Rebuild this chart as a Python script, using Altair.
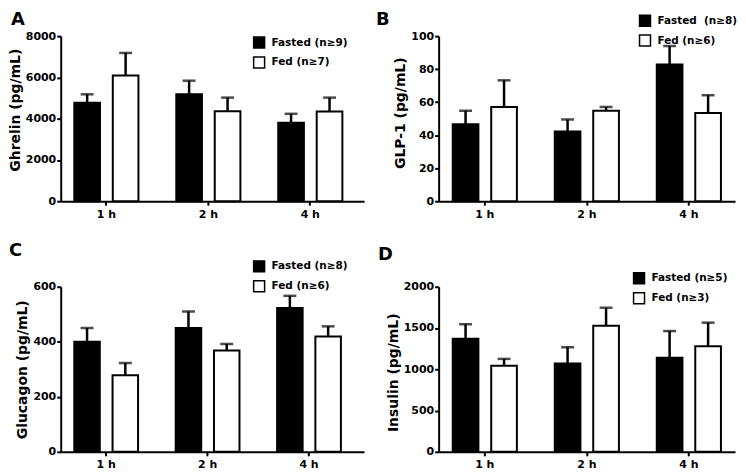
import altair as alt
import pandas as pd

FONT = "DejaVu Sans"

times = ["1 h", "2 h", "4 h"]
groups = ["Fasted", "Fed"]

# Panel A - Ghrelin
ghrelin_fasted = [4770, 5180, 3800]
ghrelin_fasted_sem = [410, 660, 435]
ghrelin_fed = [6090, 4360, 4345]
ghrelin_fed_sem = [1095, 660, 675]
ghrelin_ticks = [0, 2000, 4000, 6000, 8000]

# Panel B - GLP-1
glp1_fasted = [46.6, 42.3, 82.8]
glp1_fasted_sem = [8.2, 7.2, 11.2]
glp1_fed = [57.1, 54.8, 53.4]
glp1_fed_sem = [16.1, 2.3, 10.8]
glp1_ticks = [0, 20, 40, 60, 80, 100]

# Panel C - Glucagon
glucagon_fasted = [400, 450, 523]
glucagon_fasted_sem = [50, 60, 44]
glucagon_fed = [278, 368, 419]
glucagon_fed_sem = [45, 24, 37]
glucagon_ticks = [0, 200, 400, 600]

# Panel D - Insulin
insulin_fasted = [1369, 1071, 1141]
insulin_fasted_sem = [177, 196, 322]
insulin_fed = [1043, 1526, 1278]
insulin_fed_sem = [83, 220, 287]
insulin_ticks = [0, 500, 1000, 1500, 2000]


def panel(letter, ytitle, fasted, fasted_sem, fed, fed_sem, labels, ticks,
          W, H, x_outer, x_align, leg_x, leg_y, let_x, let_y, title_y):
    rows = []
    for i, t in enumerate(times):
        rows.append({"time": t, "group": "Fasted", "label": labels[0],
                     "mean": fasted[i], "upper": fasted[i] + fasted_sem[i]})
        rows.append({"time": t, "group": "Fed", "label": labels[1],
                     "mean": fed[i], "upper": fed[i] + fed_sem[i]})
    df = pd.DataFrame(rows)
    x = alt.X("time:N", sort=times,
              scale=alt.Scale(paddingInner=0.245, paddingOuter=x_outer, align=x_align),
              axis=alt.Axis(title=None, labelAngle=0))
    xo = alt.XOffset("group:N", sort=groups,
                     scale=alt.Scale(domain=groups, paddingInner=0.333, paddingOuter=0.167))
    yscale = alt.Scale(domain=[ticks[0], ticks[-1]], nice=False, zero=True)
    yaxis = alt.Axis(title=ytitle, values=ticks, tickCount=len(ticks), titleY=title_y,
                     format="d", labelOverlap=False, labelFlush=False)
    base = alt.Chart(df)
    bars = base.mark_bar(stroke="black", strokeWidth=2).encode(
        x=x, xOffset=xo,
        y=alt.Y("mean:Q", scale=yscale, axis=yaxis),
        fill=alt.Fill("label:N", sort=labels,
                      scale=alt.Scale(domain=labels, range=["black", "white"]),
                      legend=alt.Legend(title=None, orient="none", legendX=leg_x, legendY=leg_y,
                                        symbolType="square", symbolSize=121,
                                        symbolStrokeColor="black", symbolStrokeWidth=1.5,
                                        labelFont=FONT, labelFontWeight="bold", labelFontSize=10.5,
                                        labelColor="black", labelOffset=6, rowPadding=3,
                                        padding=0, labelLimit=300)),
    )
    rules = base.mark_rule(color="black", strokeWidth=2.5).encode(
        x=x, xOffset=xo,
        y=alt.Y("mean:Q", scale=yscale, axis=yaxis),
        y2="upper:Q",
    )
    caps = base.mark_tick(color="black", thickness=2.5, size=13).encode(
        x=x, xOffset=xo,
        y=alt.Y("upper:Q", scale=yscale, axis=yaxis),
    )
    letter_chart = alt.Chart(pd.DataFrame({"letter": [letter]})).mark_text(
        align="left", baseline="alphabetic", font=FONT, fontWeight="bold",
        fontSize=18, color="black"
    ).encode(x=alt.value(let_x), y=alt.value(let_y), text="letter:N")
    return alt.layer(bars, rules, caps, letter_chart).properties(width=W, height=H)


pA = panel("A", "Ghrelin (pg/mL)", ghrelin_fasted, ghrelin_fasted_sem, ghrelin_fed, ghrelin_fed_sem,
           ["Fasted (n≥9)", "Fed (n≥7)"], ghrelin_ticks,
           305, 166, 0.11, 0.32, 193, 0, -50, -11, 74)
pB = panel("B", "GLP-1 (pg/mL)", glp1_fasted, glp1_fasted_sem, glp1_fed, glp1_fed_sem,
           ["Fasted\u00a0 (n≥8)", "Fed (n≥6)"], glp1_ticks,
           298, 166, 0.075, 0.5, 201, -22, -63, -11, 77)
pC = panel("C", "Glucagon (pg/mL)", glucagon_fasted, glucagon_fasted_sem, glucagon_fed, glucagon_fed_sem,
           ["Fasted (n≥8)", "Fed (n≥6)"], glucagon_ticks,
           305, 166, 0.118, 0.30, 193, -27, -52, -31, 83)
pD = panel("D", "Insulin (pg/mL)", insulin_fasted, insulin_fasted_sem, insulin_fed, insulin_fed_sem,
           ["Fasted (n≥5)", "Fed (n≥3)"], insulin_ticks,
           298, 166, 0.075, 0.5, 195, -15, -61, -27, 86)

res = dict(x="independent", y="independent", fill="independent", xOffset="independent")

chart = (
    alt.concat(pA, pB, pC, pD, columns=2, spacing={"row": 86, "column": 75},
               bounds="flush", align="each")
    .resolve_scale(**res)
    .properties(padding={"left": 0, "top": 2, "right": 0, "bottom": 0})
    .configure_view(stroke=None)
    .configure_axis(grid=False, domainColor="black", domainWidth=2, tickColor="black",
                    tickWidth=2, tickSize=4, labelFont=FONT, labelFontWeight="bold",
                    labelFontSize=11, labelColor="black", titleFont=FONT,
                    titleFontWeight="bold", titleFontSize=14, titleColor="black")
    .configure_axisY(labelPadding=1, titlePadding=3)
    .configure_axisX(labelPadding=3)
)

chart.save("out.html", embed_options={"renderer": "svg", "actions": False})
